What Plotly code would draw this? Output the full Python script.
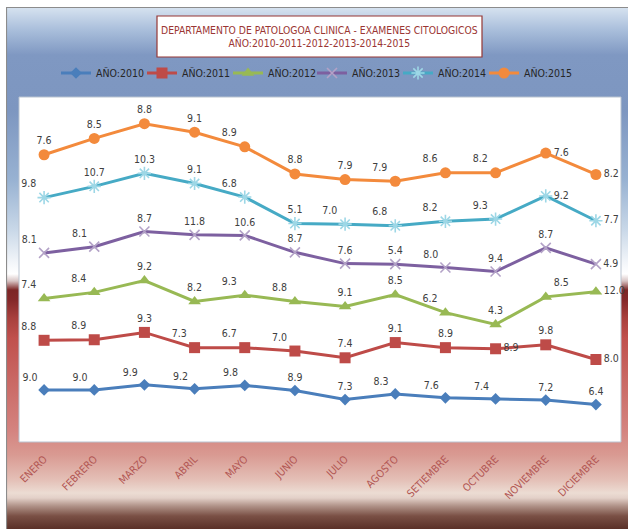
import base64
import numpy as np
import plotly.graph_objects as go

months = ["ENERO", "FEBRERO", "MARZO", "ABRIL", "MAYO", "JUNIO", "JULIO",
          "AGOSTO", "SETIEMBRE", "OCTUBRE", "NOVIEMBRE", "DICIEMBRE"]

years = ["AÑO:2010", "AÑO:2011", "AÑO:2012", "AÑO:2013", "AÑO:2014", "AÑO:2015"]

v2010 = [9.0, 9.0, 9.9, 9.2, 9.8, 8.9, 7.3, 8.3, 7.6, 7.4, 7.2, 6.4]
v2011 = [8.8, 8.9, 9.3, 7.3, 6.7, 7.0, 7.4, 9.1, 8.9, 8.9, 9.8, 8.0]
v2012 = [7.4, 8.4, 9.2, 8.2, 9.3, 8.8, 9.1, 8.5, 6.2, 4.3, 8.5, 12.0]
v2013 = [8.1, 8.1, 8.7, 11.8, 10.6, 8.7, 7.6, 5.4, 8.0, 9.4, 8.7, 4.9]
v2014 = [9.8, 10.7, 10.3, 9.1, 6.8, 5.1, 7.0, 6.8, 8.2, 9.3, 9.2, 7.7]
v2015 = [7.6, 8.5, 8.8, 9.1, 8.9, 8.8, 7.9, 7.9, 8.6, 8.2, 7.6, 8.2]

series = [v2010, v2011, v2012, v2013, v2014, v2015]

# ---- styles ----
W, H = 628, 529
TL, TC, MR, TR = "top left", "top center", "middle right", "top right"
label_pos = [
    [TL, TL, TL, TL, TL, TC, TC, TL, TL, TL, TC, TC],
    [TL, TL, TC, TL, TL, TL, TC, TC, TC, MR, TC, MR],
    [TL, TL, TC, TC, TL, TL, TC, TC, TL, TC, TR, MR],
    [TL, TL, TC, TC, TC, TC, TC, TC, TL, TC, TC, MR],
    [TL, TC, TC, TC, TL, TC, TL, TL, TL, TL, MR, MR],
    [TC, TC, TC, TC, TL, TC, TC, TL, TL, TL, MR, MR],
]
line_colors = ["#4A7EBB", "#BE4B48", "#98B954", "#7D60A0", "#46AAC5", "#F38A3C"]
marker_colors = ["#4A7EBB", "#BE4B48", "#98B954", "#B3A2C7", "#9DD7E6", "#F38A3C"]
symbols = ["diamond", "square", "triangle-up", "x-thin-open", "asterisk-open", "circle"]
msizes = [9, 11, 11, 10, 11, 11]
legend_text_x = [96, 182, 268, 352, 438, 524]   # pixel where each legend label starts

FONT = "DejaVu Sans Condensed, Liberation Sans, sans-serif"

def px_x(x):
    return x / W

def px_y(y):
    return (H - y) / H

# background gradient as SVG image
stops = [
    (7, "#d7e3f0"), (30, "#a9bedb"), (55, "#7f98c2"), (110, "#7d96c0"),
    (180, "#98b2d2"), (230, "#c9d8e8"), (262, "#f2f5f9"), (274, "#ffffff"),
    (281, "#d8c4c4"), (290, "#7c2626"), (300, "#84292a"), (318, "#a8403d"),
    (338, "#c0504d"), (380, "#c96864"), (430, "#d4837f"), (455, "#d99a92"),
    (480, "#e4c0b7"), (493, "#ecdcd3"), (498, "#e3d0c8"), (506, "#b09288"),
    (516, "#7a5045"), (529, "#5a3028"),
]
gh = 529 - 7
stop_xml = "".join(
    f'<stop offset="{(y - 7) / gh:.4f}" stop-color="{c}"/>' for y, c in stops
)
svg = (
    f'<svg xmlns="http://www.w3.org/2000/svg" width="622" height="{gh}" '
    f'viewBox="0 0 622 {gh}" preserveAspectRatio="none">'
    f'<defs><linearGradient id="g" x1="0" y1="0" x2="0" y2="1">{stop_xml}</linearGradient></defs>'
    f'<rect x="0" y="0" width="622" height="{gh}" fill="url(#g)"/>'
    f'<path d="M0.5,{gh} L0.5,0.5 L622,0.5" stroke="#8c8c8c" stroke-width="1.2" fill="none"/>'
    f'</svg>'
)
src = "data:image/svg+xml;base64," + base64.b64encode(svg.encode()).decode()

fig = go.Figure()

cum = np.cumsum(np.array(series), axis=0)
legend_ids = ["legend"] + [f"legend{k}" for k in range(2, 7)]
for i, name in enumerate(years):
    fig.add_trace(go.Scatter(
        x=months, y=cum[i], name=name,
        mode="lines+markers+text",
        text=[f"{v:.1f}" for v in series[i]],
        textposition=label_pos[i],
        textfont=dict(family=FONT, size=10.5, color="#404040"),
        line=dict(color=line_colors[i], width=3),
        marker=dict(symbol=symbols[i], size=msizes[i], color=marker_colors[i],
                    line=dict(width=1.6 if i in (3, 4) else 0, color=marker_colors[i])),
        cliponaxis=False,
        hoverinfo="skip",
        legend=legend_ids[i],
    ))

x0, x1, yb, yt = 19, 621, 442, 97
legends = {}
for i, lid in enumerate(legend_ids):
    legends[lid] = dict(
        orientation="h", x=px_x(legend_text_x[i] - 40), y=px_y(73),
        xanchor="left", yanchor="middle", bgcolor="rgba(0,0,0,0)",
        font=dict(family=FONT, size=10.5, color="#262626"),
        itemwidth=30,
    )

fig.update_layout(
    width=W, height=H,
    margin=dict(l=0, r=0, t=0, b=0),
    paper_bgcolor="white",
    plot_bgcolor="rgba(0,0,0,0)",
    images=[dict(source=src, xref="paper", yref="paper", x=px_x(6), y=px_y(7),
                 sizex=px_x(622), sizey=(529 - 7) / H, xanchor="left", yanchor="top",
                 sizing="stretch", layer="below")],
    shapes=[
        dict(type="rect", xref="paper", yref="paper", x0=px_x(x0), x1=px_x(x1),
             y0=px_y(yb), y1=px_y(yt), fillcolor="white",
             line=dict(color="#b9c3d0", width=1), layer="below"),
        dict(type="rect", xref="paper", yref="paper", x0=px_x(157), x1=px_x(482),
             y0=px_y(57), y1=px_y(16), fillcolor="white",
             line=dict(color="#953735", width=1.2), layer="below"),
    ],
    annotations=[dict(
        text="DEPARTAMENTO DE PATOLOGOA CLINICA - EXAMENES CITOLOGICOS<br>AÑO:2010-2011-2012-2013-2014-2015",
        xref="paper", yref="paper", x=px_x(319.5), y=px_y(36.5),
        xanchor="center", yanchor="middle", showarrow=False,
        font=dict(family=FONT, size=10.3, color="#9B3633"),
    )],
    xaxis=dict(
        domain=[px_x(x0), px_x(x1)], range=[-0.5, 11.5],
        showgrid=False, zeroline=False, showline=False, ticks="",
        tickangle=-45, automargin=False, ticklabelstandoff=8,
        tickfont=dict(family=FONT, size=10.5, color="#B25653"),
        fixedrange=True,
    ),
    yaxis=dict(
        domain=[px_y(yb), px_y(yt)], range=[-0.23, 60.94],
        visible=False, showgrid=False, zeroline=False, fixedrange=True,
    ),
    showlegend=True,
    **legends,
)

fig.write_html("out.html", config={"displayModeBar": False},
               post_script="document.body.style.margin='0';document.body.style.overflow='hidden';")
